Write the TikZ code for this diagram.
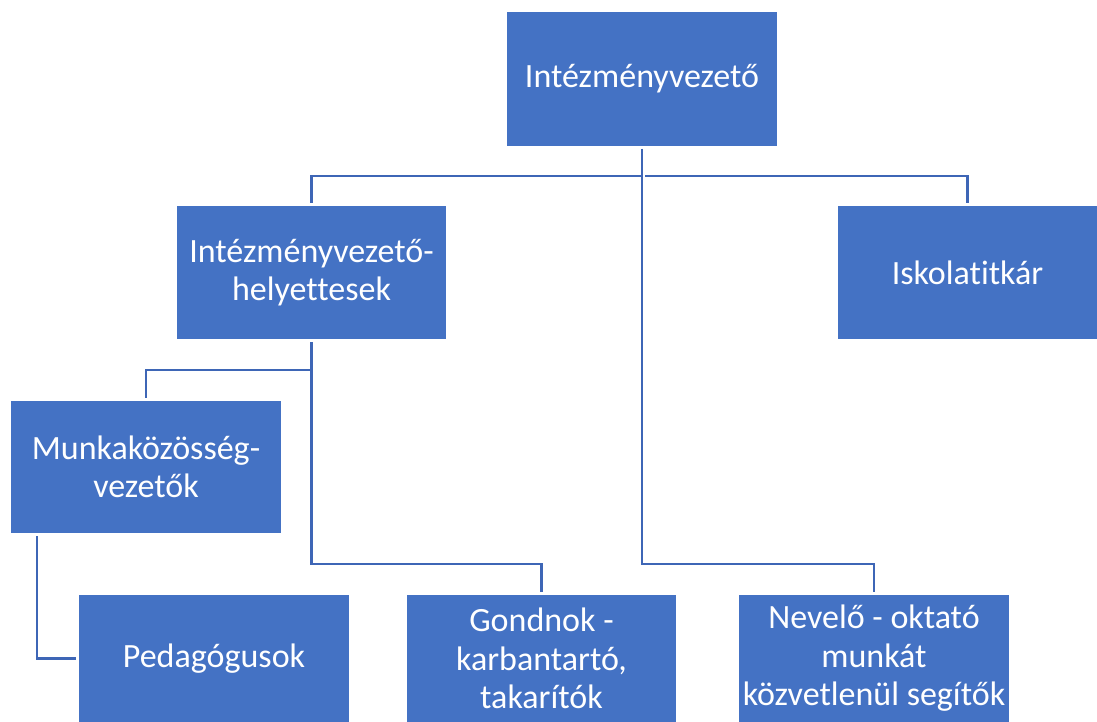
\documentclass[tikz,border=0pt]{standalone}
\usepackage{fontspec}
\setmainfont[Ligatures=NoCommon]{Carlito}
\usetikzlibrary{calc}
\definecolor{boxblue}{HTML}{4472C4}
\definecolor{lineblue}{RGB}{62,102,182}
\tikzset{
  orgbox/.style={rectangle, fill=boxblue, draw=none, text=white, inner sep=0pt, outer sep=0pt,
    align=center, font=\fontsize{34}{38.5}\selectfont},
  conn/.style={draw=lineblue, line width=2.5pt, shorten <=3pt, shorten >=3pt}
}
\begin{document}
\begin{tikzpicture}[x=1pt,y=-1pt]
\useasboundingbox (0,0) rectangle (1097,722);
\node[orgbox, minimum width=270pt, minimum height=134pt] (top) at (642,79) {Intézményvezető};
\node[orgbox, minimum width=269pt, minimum height=133pt] (dep) at (311.5,272.5) {Intézményvezető-\\helyettesek};
\node[orgbox, minimum width=259pt, minimum height=133pt] (isk) at (967.5,272.5) {Iskolatitkár};
\node[orgbox, minimum width=270pt, minimum height=132pt] (mk) at (146,467) {Munkaközösség-\\vezetők};
\node[orgbox, minimum width=270pt, minimum height=127pt] (ped) at (214,658.5) {Pedagógusok};
\node[orgbox, minimum width=269pt, minimum height=127pt] (gond) at (541.5,658.5) {Gondnok -\\karbantartó,\\takarítók};
\node[orgbox, minimum width=270pt, minimum height=127pt] (nev) at (874,658.5) {Nevelő - oktató\\munkát\\közvetlenül segítők};

\coordinate (topj) at ($(top.south)+(0,30)$);
\draw[conn] (top.south) -- (topj) -| (dep.north);
\draw[conn] (topj) -| (isk.north);
\coordinate (nevj) at ($(nev.north)+(0,-31)$);
\draw[conn] (top.south) |- (nevj) -- (nev.north);
\coordinate (depj) at ($(dep.south)+(0,31)$);
\draw[conn] (dep.south) -- (depj) -| (mk.north);
\coordinate (gondj) at ($(gond.north)+(0,-31)$);
\draw[conn] (dep.south) |- (gondj) -- (gond.north);
\coordinate (mkb) at ($(mk.south west)+(26,0)$);
\draw[conn] (mkb) |- (ped.west);
\end{tikzpicture}
\end{document}
